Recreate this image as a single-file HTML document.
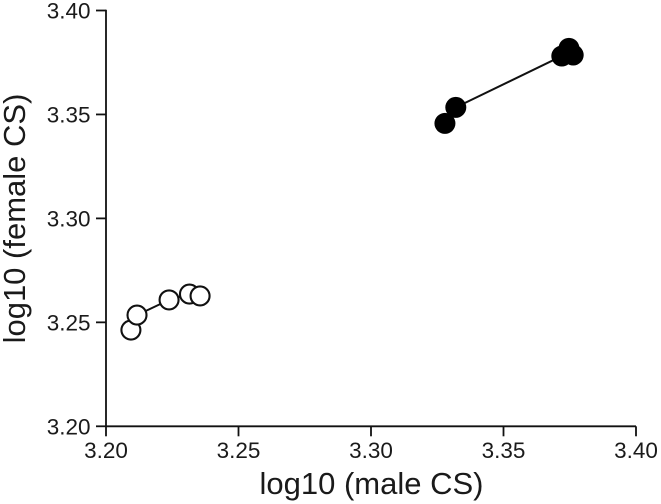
<!DOCTYPE html>
<html>
<head>
<meta charset="utf-8">
<style>
html,body{margin:0;padding:0;background:#fff;width:661px;height:504px;overflow:hidden}
svg{display:block}
text{font-family:"Liberation Sans",Arial,sans-serif;fill:#1a1a1a}
.tick{font-size:22.5px}
.title{font-size:31px}
</style>
</head>
<body>
<svg id="chart" width="661" height="504" viewBox="0 0 661 504" xmlns="http://www.w3.org/2000/svg">
<g id="axes"></g>
<g id="series"></g>
<text class="title" x="371.5" y="494" text-anchor="middle">log10 (male CS)</text>
<text class="title" transform="translate(25,218.5) rotate(-90)" text-anchor="middle">log10 (female CS)</text>
</svg>
<script>
var xTicks = [3.20, 3.25, 3.30, 3.35, 3.40];
var yTicks = [3.20, 3.25, 3.30, 3.35, 3.40];
var openX = [3.2094, 3.2117, 3.2238, 3.2315, 3.2355];
var openY = [3.2463, 3.2535, 3.2608, 3.2636, 3.2627];
var filledX = [3.3279, 3.3320, 3.3720, 3.3747, 3.3763];
var filledY = [3.3457, 3.3534, 3.3781, 3.3818, 3.3786];

var NS = 'http://www.w3.org/2000/svg';
function sx(v){ return 106 + (v - 3.20) * (636 - 106) / 0.20; }
function sy(v){ return 426.3 - (v - 3.20) * (426.3 - 10.5) / 0.20; }
function make(tag, attrs, parent){
  var el = document.createElementNS(NS, tag);
  for (var k in attrs) el.setAttribute(k, attrs[k]);
  parent.appendChild(el);
  return el;
}
var axes = document.getElementById('axes');
var series = document.getElementById('series');
var ink = '#111';

var xAxis = make('line', {x1: sx(3.20), x2: sx(3.40), y1: sy(3.20), y2: sy(3.20), stroke: ink, 'stroke-width': 1.8}, axes);


var yAxis = make('line', {x1: sx(3.20), x2: sx(3.20), y1: sy(3.20), y2: sy(3.40) - 0.8, stroke: ink, 'stroke-width': 1.8}, axes);



xTicks.forEach(function(t){
  var m = make('line', {x1: sx(t), x2: sx(t), y1: sy(3.20), y2: sy(3.20) + 10, stroke: ink, 'stroke-width': 1.8}, axes);
  
  
  var l = make('text', {x: sx(t), y: 458, 'text-anchor': 'middle', 'class': 'tick'}, axes);
  
  
  l.textContent = t.toFixed(2);
});
yTicks.forEach(function(t){
  var m = make('line', {x1: sx(3.20) - 10, x2: sx(3.20), y1: sy(t), y2: sy(t), stroke: ink, 'stroke-width': 1.8}, axes);
  
  
  var l = make('text', {x: 90.5, y: sy(t) + 8, 'text-anchor': 'end', 'class': 'tick'}, axes);
  
  
  l.textContent = t.toFixed(2);
});

function pts(xs, ys){
  return xs.map(function(x, i){ return sx(x) + ',' + sy(ys[i]); }).join(' ');
}
var openLine = make('polyline', {points: pts(openX, openY), fill: 'none', stroke: ink, 'stroke-width': 2}, series);


var filledLine = make('polyline', {points: pts(filledX, filledY), fill: 'none', stroke: ink, 'stroke-width': 2}, series);



openX.forEach(function(x, i){
  var c = make('circle', {cx: sx(x), cy: sy(openY[i]), r: 9.5, fill: '#fff', stroke: ink, 'stroke-width': 2.1}, series);
  
  
});
filledX.forEach(function(x, i){
  var c = make('circle', {cx: sx(x), cy: sy(filledY[i]), r: 10.5, fill: '#000'}, series);
  
  
});
</script>
</body>
</html>
